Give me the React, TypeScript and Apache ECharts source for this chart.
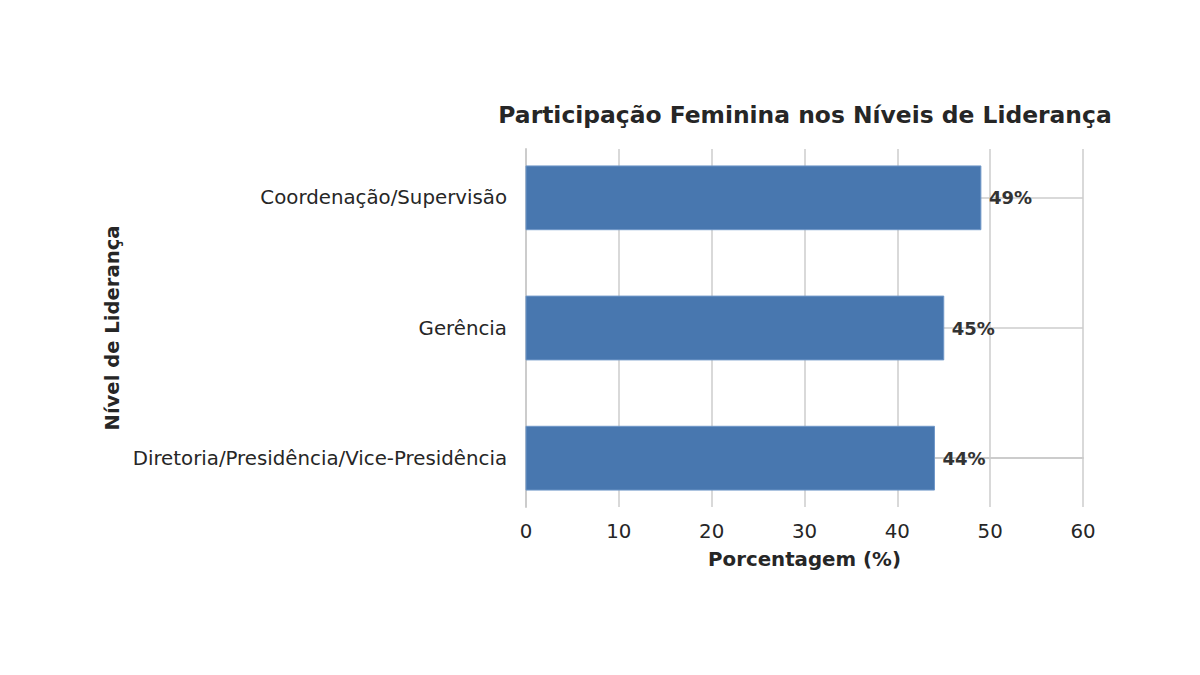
import React, { useEffect, useRef } from "react";
import * as echarts from "echarts";

const categories = [
  "Diretoria/Presidência/Vice-Presidência",
  "Gerência",
  "Coordenação/Supervisão",
];
const values = [44, 45, 49];
const xTicks = [0, 10, 20, 30, 40, 50, 60];

const FONT = "DejaVu Sans";
const TEXT = "#262626";
const GRID = "#cccccc";

export default function App() {
  const ref = useRef<HTMLDivElement>(null);
  useEffect(() => {
    if (!ref.current) return;
    const chart = echarts.init(ref.current, undefined, { renderer: "svg" });
    const data = values.map((v, i) => [v, i]);
    chart.setOption({
      animation: false,
      backgroundColor: "#ffffff",
      title: {
        text: "Participação Feminina nos Níveis de Liderança",
        left: 800,
        top: 98,
        textAlign: "center",
        textStyle: { fontFamily: FONT, fontWeight: "bold", fontSize: 23.4, color: TEXT },
      },
      grid: { left: 526, right: 117, top: 149, bottom: 168, containLabel: false },
      xAxis: {
        type: "value",
        min: xTicks[0],
        max: xTicks[xTicks.length - 1],
        interval: 10,
        name: "Porcentagem (%)",
        nameLocation: "middle",
        nameGap: 42,
        nameTextStyle: { fontFamily: FONT, fontWeight: "bold", fontSize: 19.8, color: TEXT, verticalAlign: "top" },
        axisLine: { show: true, lineStyle: { color: GRID, width: 2 } },
        axisTick: { show: false },
        axisLabel: { fontFamily: FONT, fontSize: 19.8, color: TEXT, margin: 14 },
        splitLine: { show: true, lineStyle: { color: GRID, width: 1.5 } },
      },
      yAxis: {
        type: "value",
        min: -0.375,
        max: 2.375,
        name: "Nível de Liderança",
        nameLocation: "middle",
        nameRotate: 90,
        nameGap: 404,
        nameTextStyle: { fontFamily: FONT, fontWeight: "bold", fontSize: 19.6, color: TEXT },
        axisLine: { show: true, lineStyle: { color: GRID, width: 2 } },
        axisTick: { show: false, customValues: [0, 1, 2] },
        axisLabel: {
          customValues: [0, 1, 2],
          fontFamily: FONT,
          fontSize: 19.8,
          color: TEXT,
          margin: 19,
          padding: [3, 0, 0, 0],
          formatter: (v: number) => categories[Math.round(v)] ?? "",
        },
        splitLine: { show: true, lineStyle: { color: GRID, width: 1.5 } },
      },
      series: [
        {
          type: "custom",
          data,
          encode: { x: 0, y: 1 },
          renderItem: (params: any, api: any) => {
            const v = api.value(0);
            const idx = api.value(1);
            const start = api.coord([0, idx]);
            const end = api.coord([v, idx]);
            const h = api.size([0, 0.49])[1];
            return {
              type: "group",
              children: [
                {
                  type: "rect",
                  shape: { x: start[0], y: start[1] - h / 2, width: end[0] - start[0], height: h },
                  style: { fill: "#4877af", stroke: "#6f97c8", lineWidth: 1 },
                },
                {
                  type: "text",
                  x: end[0] + 8,
                  y: end[1],
                  style: {
                    text: v + "%",
                    fill: "#333333",
                    fontFamily: FONT,
                    fontWeight: "bold",
                    fontSize: 18,
                    verticalAlign: "middle",
                    align: "left",
                  },
                },
              ],
            };
          },
        },
      ],
    });
    return () => chart.dispose();
  }, []);
  return <div ref={ref} style={{ width: 1200, height: 675, margin: -8 }} />;
}
